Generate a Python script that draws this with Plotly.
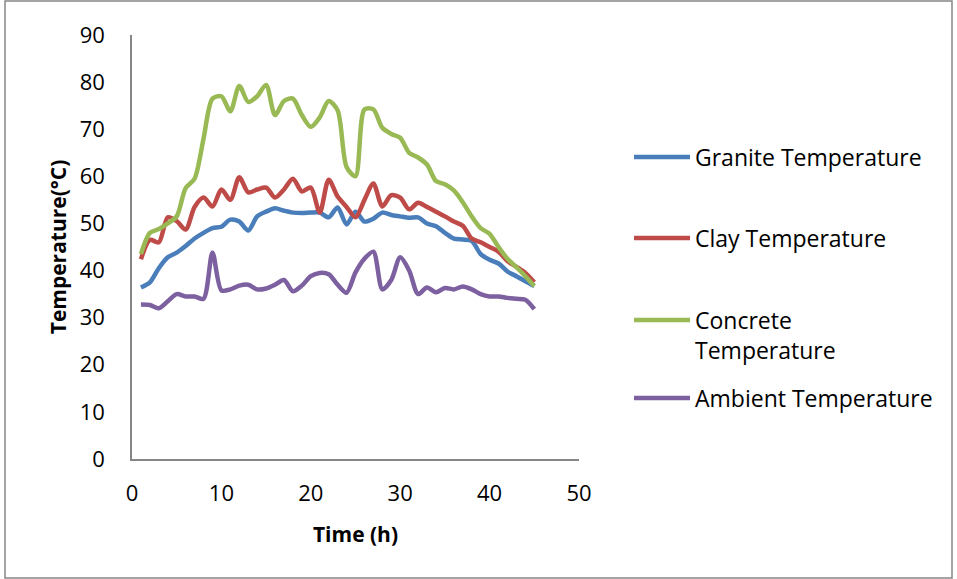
import plotly.graph_objects as go

# Hours 1..45
hours = list(range(1, 46))

granite = [36.4, 37.5, 40.5, 42.8, 43.8, 45.2, 46.8, 48.0, 49.0, 49.3,
           50.8, 50.4, 48.5, 51.5, 52.5, 53.2, 52.7, 52.3, 52.2, 52.3,
           52.3, 51.3, 53.4, 49.8, 52.5, 50.4, 51.0, 52.3, 51.8, 51.5,
           51.2, 51.3, 50.0, 49.4, 48.0, 46.8, 46.6, 46.3, 43.5, 42.3,
           41.5, 39.8, 38.8, 37.7, 36.7]

clay = [42.4, 46.5, 46.0, 51.3, 50.5, 48.7, 53.5, 55.5, 53.6, 57.2,
        55.0, 59.8, 56.6, 57.2, 57.6, 55.5, 57.2, 59.5, 56.8, 57.6,
        52.3, 59.3, 55.7, 53.5, 51.3, 55.0, 58.5, 53.6, 56.0, 55.5,
        53.0, 54.4, 53.5, 52.5, 51.5, 50.4, 49.5, 46.8, 46.0, 45.0,
        44.0, 42.0, 40.8, 39.5, 37.5]

concrete = [43.5, 48.0, 48.8, 50.0, 51.5, 57.5, 59.5, 68.0, 76.5, 77.0,
            73.8, 79.2, 75.8, 77.0, 79.4, 73.0, 76.0, 76.5, 73.0, 70.5,
            72.5, 76.0, 74.0, 62.0, 60.0, 74.2, 74.2, 70.3, 69.0, 68.2,
            65.0, 64.0, 62.5, 59.0, 58.3, 57.0, 54.5, 51.5, 49.0, 47.8,
            45.0, 42.5, 40.7, 38.8, 36.7]

ambient = [32.8, 32.7, 32.0, 33.5, 35.0, 34.5, 34.5, 34.0, 43.8, 35.8,
           36.0, 36.8, 37.0, 36.0, 36.2, 37.0, 38.0, 35.6, 36.8, 38.8,
           39.5, 39.2, 37.0, 35.3, 39.6, 42.5, 44.0, 36.0, 38.0, 42.8,
           40.0, 35.0, 36.4, 35.4, 36.3, 36.0, 36.6, 36.0, 35.0, 34.5,
           34.5, 34.2, 34.0, 33.8, 31.8]

series = [
    ('Granite Temperature', granite, '#4a7ebb', 'legend'),
    ('Clay Temperature', clay, '#be4b48', 'legend2'),
    ('Concrete<br>Temperature', concrete, '#98b954', 'legend3'),
    ('Ambient Temperature', ambient, '#7d60a0', 'legend4'),
]

FONT = 'Open Sans'

fig = go.Figure()
for name, vals, color, leg in series:
    fig.add_trace(go.Scatter(
        x=hours, y=vals, mode='lines', name=name,
        line=dict(color=color, width=4.5, shape='spline', smoothing=0.8),
        legend=leg,
    ))

# plot area: x 132..579, y 35..459
L, R, T, B = 132, 579, 35, 459
W, H = 957, 579
pw, ph = R - L, B - T


def px_x(x):
    return (x - L) / pw


def px_y(y):
    return (B - y) / ph


def leg(y_px):
    return dict(x=px_x(629), y=px_y(y_px), xanchor='left', yanchor='middle',
                bgcolor='rgba(0,0,0,0)', font=dict(family=FONT, size=23, color='black'),
                itemwidth=56, valign='top')


fig.update_layout(
    width=W, height=H,
    margin=dict(l=L, r=W - R, t=T, b=H - B, autoexpand=False),
    paper_bgcolor='white', plot_bgcolor='white',
    font=dict(family=FONT, size=22, color='black'),
    showlegend=True,
    legend=leg(157),
    legend2=leg(238),
    legend3=leg(335),
    legend4=leg(398),
    xaxis=dict(
        range=[0, 50], tickvals=[0, 10, 20, 30, 40, 50],
        showgrid=False, zeroline=False, showline=True,
        linecolor='#868686', linewidth=1.5,
        ticks='outside', ticklen=14, tickcolor='rgba(0,0,0,0)',
        tickfont=dict(family=FONT, size=22),
        title=dict(text='<b>Time (h)</b>', font=dict(family=FONT, size=21), standoff=21),
    ),
    yaxis=dict(
        range=[0, 90], tickvals=list(range(0, 91, 10)),
        showgrid=False, zeroline=False, showline=True,
        linecolor='#868686', linewidth=1.5,
        ticks='outside', ticklen=21, tickcolor='rgba(0,0,0,0)',
        tickfont=dict(family=FONT, size=22),
        title=dict(text='<b>Temperature(°C)</b>', font=dict(family=FONT, size=21), standoff=7),
    ),
    shapes=[dict(
        type='rect', xref='paper', yref='paper',
        x0=px_x(5), x1=px_x(952), y0=px_y(578), y1=px_y(1),
        line=dict(color='#868686', width=1.5), fillcolor='rgba(0,0,0,0)', layer='below',
    )],
)

# drop the default page margin so the figure sits at the window origin
fig.write_html('out.html', config={'displayModeBar': False},
               post_script="document.body.style.margin='0';")
